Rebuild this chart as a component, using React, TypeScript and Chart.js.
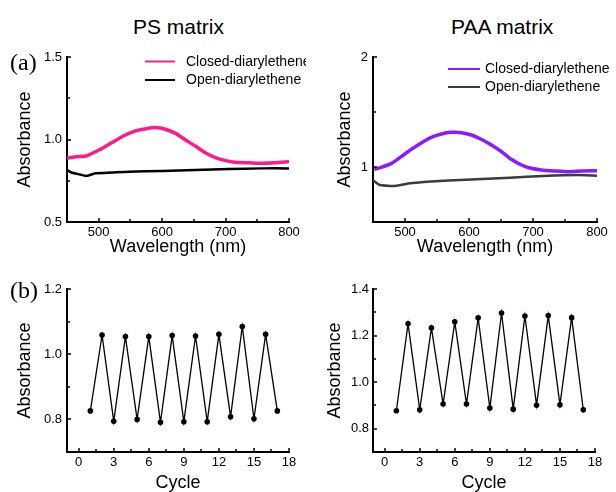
import React, { useEffect, useRef } from 'react';
import { Chart, registerables } from 'chart.js';
Chart.register(...registerables);

// ---------- data ----------
const psClosedWl = [450, 463, 480, 495, 510, 526, 542, 558, 573, 589, 605, 621, 637, 652, 668, 684, 700, 715, 737, 758, 778, 800];
const psClosedAbs = [0.886, 0.896, 0.9, 0.926, 0.956, 0.993, 1.027, 1.052, 1.064, 1.072, 1.062, 1.037, 0.997, 0.961, 0.92, 0.89, 0.872, 0.862, 0.859, 0.856, 0.859, 0.866];
const psOpenWl = [450, 457, 468, 481, 495, 521, 547, 600, 652, 705, 757, 800];
const psOpenAbs = [0.815, 0.8, 0.79, 0.779, 0.795, 0.8, 0.805, 0.809, 0.815, 0.821, 0.825, 0.825];

const paaClosedWl = [452, 463, 479, 494, 510, 526, 541, 557, 572, 588, 604, 619, 635, 651, 666, 682, 697, 713, 734, 755, 776, 800];
const paaClosedAbs = [0.979, 0.997, 1.033, 1.094, 1.161, 1.221, 1.27, 1.3, 1.315, 1.312, 1.291, 1.252, 1.2, 1.139, 1.07, 1.018, 0.988, 0.973, 0.964, 0.957, 0.964, 0.966];
const paaOpenWl = [450, 453, 461, 487, 508, 534, 560, 612, 664, 716, 768, 800];
const paaOpenAbs = [0.88, 0.866, 0.836, 0.83, 0.852, 0.866, 0.876, 0.888, 0.903, 0.918, 0.927, 0.921];

const cycles = [1, 2, 3, 4, 5, 6, 7, 8, 9, 10, 11, 12, 13, 14, 15, 16, 17];
const psCycleAbs = [0.826, 1.059, 0.794, 1.054, 0.8, 1.054, 0.791, 1.057, 0.793, 1.056, 0.793, 1.061, 0.808, 1.085, 0.802, 1.061, 0.826];
const paaCycleAbs = [0.877, 1.251, 0.881, 1.233, 0.906, 1.259, 0.906, 1.276, 0.889, 1.297, 0.884, 1.284, 0.901, 1.286, 0.903, 1.277, 0.881];

const wlTicks = [500, 600, 700, 800];
const wlMinor = [550, 650, 750];
const psAbsTicks = [0.5, 1.0, 1.5];
const psAbsMinor = [0.75, 1.25];
const paaAbsTicks = [1, 2];
const paaAbsMinor = [1.5];
const cycleTicks = [0, 3, 6, 9, 12, 15, 18];
const cycleMinor = [1.5, 4.5, 7.5, 10.5, 13.5, 16.5];
const psCycTicks = [0.8, 1.0, 1.2];
const psCycMinor = [0.9, 1.1];
const paaCycTicks = [0.8, 1.0, 1.2, 1.4];
const paaCycMinor = [0.9, 1.1, 1.3];

const seriesNames = ['Closed-diarylethene', 'Open-diarylethene'];

const SANS = "'Liberation Sans', Arial, sans-serif";

const toXY = (xs: number[], ys: number[]) => xs.map((x, i) => ({ x, y: ys[i] }));

// ---------- plugins ----------
const inwardTicks = {
  id: 'inwardTicks',
  afterDraw(chart: any, _args: any, opts: any) {
    const ctx = chart.ctx;
    const a = chart.chartArea;
    const xs = chart.scales.x;
    const ys = chart.scales.y;
    ctx.save();
    ctx.strokeStyle = '#000';
    ctx.lineWidth = 1.5;
    const dx = (vals: number[], len: number) =>
      vals.forEach((v) => {
        const p = Math.round(xs.getPixelForValue(v));
        ctx.beginPath();
        ctx.moveTo(p, a.bottom);
        ctx.lineTo(p, a.bottom - len);
        ctx.stroke();
      });
    const dy = (vals: number[], len: number) =>
      vals.forEach((v) => {
        const p = Math.round(ys.getPixelForValue(v));
        ctx.beginPath();
        ctx.moveTo(a.left, p);
        ctx.lineTo(a.left + len, p);
        ctx.stroke();
      });
    dx(opts.xMajor || [], 4);
    dx(opts.xMinor || [], 3);
    dy(opts.yMajor || [], 4);
    dy(opts.yMinor || [], 3);
    ctx.restore();
  },
};

const miniLegend = {
  id: 'miniLegend',
  afterDraw(chart: any, _args: any, opts: any) {
    if (!opts || !opts.show) return;
    const ctx = chart.ctx;
    ctx.save();
    chart.data.datasets.forEach((ds: any, i: number) => {
      const y = opts.ys[i];
      ctx.strokeStyle = ds.borderColor;
      ctx.lineWidth = 2;
      ctx.beginPath();
      ctx.moveTo(opts.x1, y);
      ctx.lineTo(opts.x2, y);
      ctx.stroke();
      ctx.fillStyle = '#000';
      ctx.font = `14px ${SANS}`;
      ctx.textBaseline = 'middle';
      ctx.textAlign = 'left';
      ctx.fillText(ds.label, opts.tx, y + 0.5);
    });
    ctx.restore();
  },
};

// ---------- config ----------
function makeConfig(p: any) {
  return {
    type: 'line',
    data: { datasets: p.datasets },
    plugins: [inwardTicks, miniLegend],
    options: {
      animation: false,
      responsive: false,
      maintainAspectRatio: false,
      layout: { padding: p.padding },
      plugins: {
        legend: { display: false },
        tooltip: { enabled: false },
        inwardTicks: { xMajor: p.xTicks, xMinor: p.xMinor, yMajor: p.yTicksMarks, yMinor: p.yMinor },
        miniLegend: p.legend || { show: false },
      },
      scales: {
        x: {
          type: 'linear',
          min: p.xMin,
          max: p.xMax,
          afterBuildTicks: (s: any) => { s.ticks = p.xTicks.map((v: number) => ({ value: v })); },
          afterFit: (s: any) => { s.height = p.xHeight; },
          grid: { display: false, drawTicks: false },
          border: { display: true, color: '#000', width: 2 },
          ticks: { color: '#000', font: { family: SANS, size: 13 }, padding: 3, maxRotation: 0, autoSkip: false, callback: (v: any) => String(v) },
          title: { display: true, text: p.xTitle, color: '#000', font: { family: SANS, size: 18, lineHeight: 1 }, padding: { top: 0, bottom: p.xTitlePad } },
        },
        y: {
          type: 'linear',
          min: p.yMin,
          max: p.yMax,
          afterBuildTicks: (s: any) => { s.ticks = p.yTicks.map((v: number) => ({ value: v })); },
          afterFit: (s: any) => { s.width = p.yWidth; },
          grid: { display: false, drawTicks: false },
          border: { display: true, color: '#000', width: 2 },
          ticks: { color: '#000', font: { family: SANS, size: 13 }, padding: p.yTickPad, autoSkip: false, callback: p.yFmt },
          title: { display: true, text: 'Absorbance', color: '#000', font: { family: SANS, size: 18, lineHeight: 1 }, padding: { top: p.yTitlePad, bottom: 0 } },
        },
      },
    },
  };
}

const fmt1 = (v: any) => Number(v).toFixed(1);
const fmt0 = (v: any) => String(Math.round(Number(v)));

function ChartPanel({ left, top, width, height, config }: any) {
  const ref = useRef<HTMLCanvasElement>(null);
  useEffect(() => {
    const chart = new Chart(ref.current as HTMLCanvasElement, config() as any);
    return () => chart.destroy();
  }, []);
  return (
    <canvas
      ref={ref}
      width={width}
      height={height}
      style={{ position: 'absolute', left, top, width, height, display: 'block' }}
    />
  );
}

const cfgPSspec = () =>
  makeConfig({
    datasets: [
      { label: seriesNames[0], data: toXY(psClosedWl, psClosedAbs), borderColor: '#ff1a8c', borderWidth: 3.5, pointRadius: 0, tension: 0.2 },
      { label: seriesNames[1], data: toXY(psOpenWl, psOpenAbs), borderColor: '#000000', borderWidth: 2.5, pointRadius: 0, tension: 0.2 },
    ],
    padding: { left: 0, top: 17, right: 17, bottom: 0 },
    xMin: 450, xMax: 800, xTicks: wlTicks, xMinor: wlMinor,
    yMin: 0.5, yMax: 1.5, yTicks: psAbsTicks, yTicksMarks: psAbsTicks, yMinor: psAbsMinor, yFmt: fmt1,
    xHeight: 48, yWidth: 67, xTitle: 'Wavelength (nm)', xTitlePad: 14, yTitlePad: 16.5, yTickPad: 5,
    legend: { show: true, x1: 145, x2: 175, tx: 186, ys: [21.5, 40] },
  });

const cfgPAAspec = () =>
  makeConfig({
    datasets: [
      { label: seriesNames[0], data: toXY(paaClosedWl, paaClosedAbs), borderColor: '#8c1aff', borderWidth: 3.5, pointRadius: 0, tension: 0.2 },
      { label: seriesNames[1], data: toXY(paaOpenWl, paaOpenAbs), borderColor: '#3c3c3c', borderWidth: 2.5, pointRadius: 0, tension: 0.2 },
    ],
    padding: { left: 0, top: 17, right: 19, bottom: 0 },
    xMin: 450, xMax: 800, xTicks: wlTicks, xMinor: wlMinor,
    yMin: 0.5, yMax: 2, yTicks: paaAbsTicks, yTicksMarks: paaAbsTicks, yMinor: paaAbsMinor, yFmt: fmt0,
    xHeight: 48, yWidth: 67, xTitle: 'Wavelength (nm)', xTitlePad: 14, yTitlePad: 30, yTickPad: 5,
    legend: { show: true, x1: 142, x2: 174, tx: 179, ys: [29, 47] },
  });

const cfgPScyc = () =>
  makeConfig({
    datasets: [
      { label: 'PS', data: toXY(cycles, psCycleAbs), borderColor: '#000', backgroundColor: '#000', borderWidth: 1.3, pointRadius: 2.8, pointBackgroundColor: '#000', pointBorderWidth: 0 },
    ],
    padding: { left: 0, top: 19, right: 17, bottom: 0 },
    xMin: -1, xMax: 18, xTicks: cycleTicks, xMinor: cycleMinor,
    yMin: 0.7, yMax: 1.2, yTicks: psCycTicks, yTicksMarks: psCycTicks, yMinor: psCycMinor, yFmt: fmt1,
    xHeight: 40, yWidth: 67, xTitle: 'Cycle', xTitlePad: 0, yTitlePad: 16.5, yTickPad: 5,
  });

const cfgPAAcyc = () =>
  makeConfig({
    datasets: [
      { label: 'PAA', data: toXY(cycles, paaCycleAbs), borderColor: '#000', backgroundColor: '#000', borderWidth: 1.3, pointRadius: 2.8, pointBackgroundColor: '#000', pointBorderWidth: 0 },
    ],
    padding: { left: 0, top: 19, right: 21, bottom: 0 },
    xMin: -1, xMax: 18, xTicks: cycleTicks, xMinor: cycleMinor,
    yMin: 0.7, yMax: 1.4, yTicks: paaCycTicks, yTicksMarks: paaCycTicks, yMinor: paaCycMinor, yFmt: fmt1,
    xHeight: 40, yWidth: 67, xTitle: 'Cycle', xTitlePad: 0, yTitlePad: 20.5, yTickPad: 4,
  });

export default function App() {
  useEffect(() => {
    document.body.style.margin = '0';
    document.body.style.overflow = 'hidden';
  }, []);
  const headStyle: React.CSSProperties = {
    position: 'absolute', top: 16, fontFamily: SANS, fontSize: 21, lineHeight: '21px', color: '#000', whiteSpace: 'nowrap',
  };
  const tagStyle: React.CSSProperties = {
    position: 'absolute', left: 10, fontFamily: "'Liberation Serif', 'Times New Roman', serif", fontSize: 24, lineHeight: '24px', color: '#000',
  };
  return (
    <div style={{ position: 'absolute', left: 0, top: 0, width: 616, height: 492, overflow: 'hidden', background: '#fff' }}>
      <ChartPanel left={0} top={40} width={306} height={230} config={cfgPSspec} />
      <ChartPanel left={306} top={40} width={310} height={230} config={cfgPAAspec} />
      <ChartPanel left={0} top={270} width={306} height={222} config={cfgPScyc} />
      <ChartPanel left={306} top={270} width={310} height={222} config={cfgPAAcyc} />
      <div style={{ ...headStyle, left: 133 }}>PS matrix</div>
      <div style={{ ...headStyle, left: 451 }}>PAA matrix</div>
      <div style={{ ...tagStyle, top: 50 }}>(a)</div>
      <div style={{ ...tagStyle, top: 278 }}>(b)</div>
    </div>
  );
}
